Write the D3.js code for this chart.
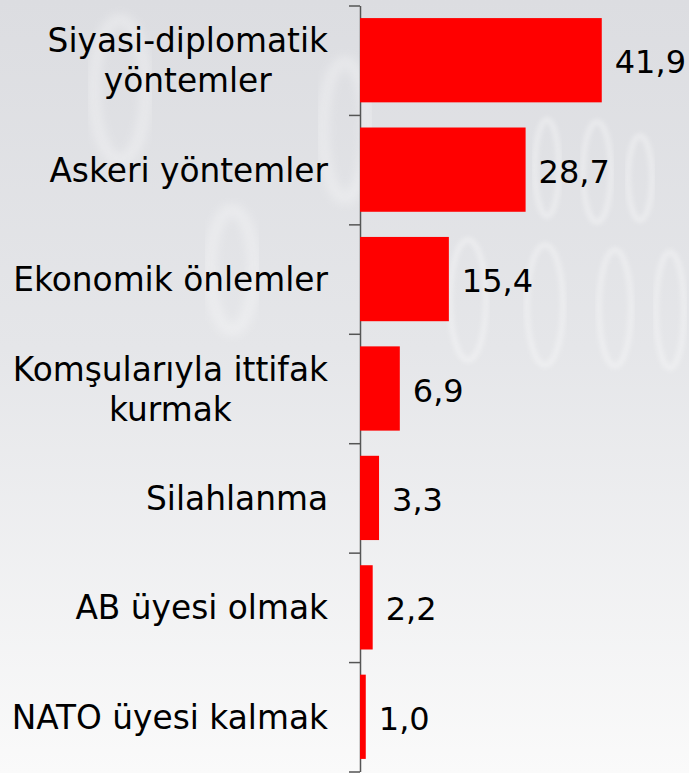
<!DOCTYPE html>
<html>
<head>
<meta charset="utf-8">
<script src="https://cdn.jsdelivr.net/npm/d3@7"></script>
<style>
  body { margin: 0; }
  .canva { width: 689px; height: 773px; }
</style>
</head>
<body>
<div class="canva"></div>
<script>
let categories = [
    "Siyasi-diplomatik\nyöntemler",
    "Askeri yöntemler",
    "Ekonomik önlemler",
    "Komşularıyla ittifak\nkurmak",
    "Silahlanma",
    "AB üyesi olmak",
    "NATO üyesi kalmak"
];
let values = [41.9, 28.7, 15.4, 6.9, 3.3, 2.2, 1.0];

const width = 689;
const height = 773;

const trFormat = d3.formatLocale({ decimal: ",", thousands: ".", grouping: [3], currency: ["", " TL"] }).format(".1f");

const svg = d3.select(".canva").append("svg")
    .attr("width", width)
    .attr("height", height);

// background
const defs = svg.append("defs");
const grad = defs.append("linearGradient")
    .attr("id", "bg")
    .attr("x1", 0).attr("y1", 0)
    .attr("x2", 0).attr("y2", 1);
grad.append("stop").attr("offset", "0%").attr("stop-color", "#dcdde1");
grad.append("stop").attr("offset", "45%").attr("stop-color", "#e5e6e9");
grad.append("stop").attr("offset", "100%").attr("stop-color", "#fafafa");

defs.append("filter").attr("id", "soft")
    .append("feGaussianBlur").attr("stdDeviation", 2);
defs.append("filter").attr("id", "softer")
    .append("feGaussianBlur").attr("stdDeviation", 5);

svg.append("rect")
    .attr("width", width)
    .attr("height", height)
    .attr("fill", "url(#bg)");

// faint binary digits in the backdrop (decoration only)
const deco = svg.append("g")
    .attr("fill", "none")
    .attr("stroke", "#ffffff");
[[547, 168, 12, 48, 1], [597, 172, 14, 50, 1], [640, 178, 12, 42, 1],
 [468, 300, 18, 60, 1], [545, 305, 18, 60, 1], [615, 308, 16, 58, 1], [670, 310, 14, 58, 1],
 [120, 90, 26, 70, 0], [345, 130, 22, 68, 0], [232, 270, 22, 60, 0]].forEach(e => {
    deco.append("ellipse")
        .attr("cx", e[0]).attr("cy", e[1])
        .attr("rx", e[2]).attr("ry", e[3])
        .attr("stroke-width", e[4] ? 6 : 12)
        .attr("filter", e[4] ? "url(#soft)" : "url(#softer)")
        .attr("opacity", e[4] ? 0.3 : 0.3);
});

const x = d3.scaleLinear()
    .domain([0, 50])
    .range([360, 648.5]);

const y = d3.scaleBand()
    .domain(categories)
    .range([5.5, 771.5])
    .paddingInner(0.23)
    .paddingOuter(0.115);

// boundaries between the categories
const yEdge = d3.scaleLinear()
    .domain([0, categories.length])
    .range([5.5, 771.5]);

svg.append("g")
    .attr("transform", "translate(360,0)")
    .call(d3.axisLeft(yEdge).ticks(categories.length).tickFormat("").tickSize(11).tickSizeOuter(0))
    .call(g => g.selectAll("line").attr("stroke", "#555").attr("stroke-width", 1.5))
    .call(g => g.select(".domain").attr("stroke", "#555").attr("stroke-width", 1.5));

svg.selectAll("rect.bar")
    .data(values)
    .enter()
    .append("rect")
    .attr("class", "bar")
    .attr("x", x(0))
    .attr("y", (d, i) => y(categories[i]))
    .attr("width", d => x(d) - x(0))
    .attr("height", y.bandwidth())
    .attr("fill", "#ff0000");

svg.selectAll("text.value")
    .data(values)
    .enter()
    .append("text")
    .attr("class", "value")
    .attr("x", d => x(d) + 13)
    .attr("y", (d, i) => y(categories[i]) + y.bandwidth() / 2 + 13)
    .attr("font-family", "DejaVu Sans, Verdana, sans-serif")
    .attr("font-size", 32)
    .attr("fill", "#000")
    .text(d => trFormat(d));

const labels = svg.selectAll("text.label")
    .data(categories)
    .enter()
    .append("text")
    .attr("class", "label")
    .attr("text-anchor", "end")
    .attr("font-family", "DejaVu Sans, Verdana, sans-serif")
    .attr("font-size", 32.8)
    .attr("fill", "#000");

labels.each(function (d) {
    const lines = d.split("\n");
    const cy = y(d) + y.bandwidth() / 2;
    const lineH = 40;
    const first = cy + 12 - (lines.length - 1) * lineH / 2;
    const t = d3.select(this);
    lines.forEach((l, k) => {
        t.append("tspan")
            .attr("x", 328)
            .attr("y", first + k * lineH)
            .text(l);
    });
});

// center the second line under the first for two-line labels
labels.each(function (d) {
    const tspans = d3.select(this).selectAll("tspan").nodes();
    if (tspans.length > 1) {
        const w0 = tspans[0].getComputedTextLength();
        const mid = 328 - w0 / 2;
        tspans.forEach(n => {
            d3.select(n).attr("text-anchor", "middle").attr("x", mid);
        });
    }
});
</script>
</body>
</html>
